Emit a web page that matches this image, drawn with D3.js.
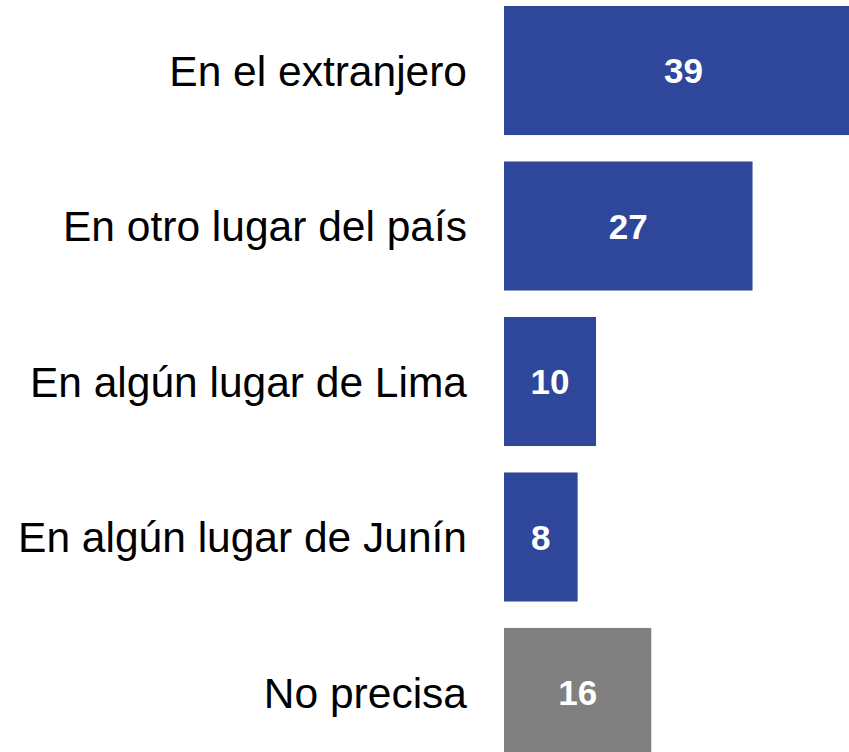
<!DOCTYPE html>
<html>
<head>
<meta charset="utf-8">
<script src="https://cdn.jsdelivr.net/npm/d3@7"></script>
<style>
  html, body { margin: 0; padding: 0; background: #fff; overflow: hidden; }
  svg { display: block; font-family: "Liberation Sans", Arial, sans-serif; }
</style>
</head>
<body>
<div id="chart"></div>
<script>
const categories = ['En el extranjero', 'En otro lugar del país', 'En algún lugar de Lima', 'En algún lugar de Junín', 'No precisa'];
const values = [39, 27, 10, 8, 16];
const colors = ['#2f479b', '#2f479b', '#2f479b', '#2f479b', '#808080'];

const width = 849, height = 752;
const left = 504;

const svg = d3.select('#chart').append('svg').attr('width', width).attr('height', height);

const data = categories.map((c, i) => ({ cat: c, val: values[i], color: colors[i] }));

const x = d3.scaleLinear().domain([0, 39]).range([0, 359]);
const y = d3.scaleBand().domain(categories).range([6, 757]).paddingInner(0.17).paddingOuter(0);

const g = svg.append('g').attr('transform', `translate(${left}, 0)`);

g.selectAll('rect').data(data).enter().append('rect')
    .attr('x', 0)
    .attr('y', d => y(d.cat))
    .attr('width', d => x(d.val))
    .attr('height', y.bandwidth())
    .style('fill', d => d.color);

g.selectAll('.val').data(data).enter().append('text')
    .attr('class', 'val')
    .attr('x', d => x(d.val) / 2)
    .attr('y', d => y(d.cat) + y.bandwidth() / 2)
    .attr('dy', '0.36em')
    .attr('text-anchor', 'middle')
    .style('fill', '#fff')
    .style('font-weight', 'bold')
    .style('font-size', '35px')
    .text(d => d.val);

svg.selectAll('.cat').data(data).enter().append('text')
    .attr('class', 'cat')
    .attr('x', 467)
    .attr('y', d => y(d.cat) + y.bandwidth() / 2)
    .attr('dy', '0.36em')
    .attr('text-anchor', 'end')
    .style('fill', '#000')
    .style('font-size', '42.5px')
    .text(d => d.cat);
</script>
</body>
</html>
